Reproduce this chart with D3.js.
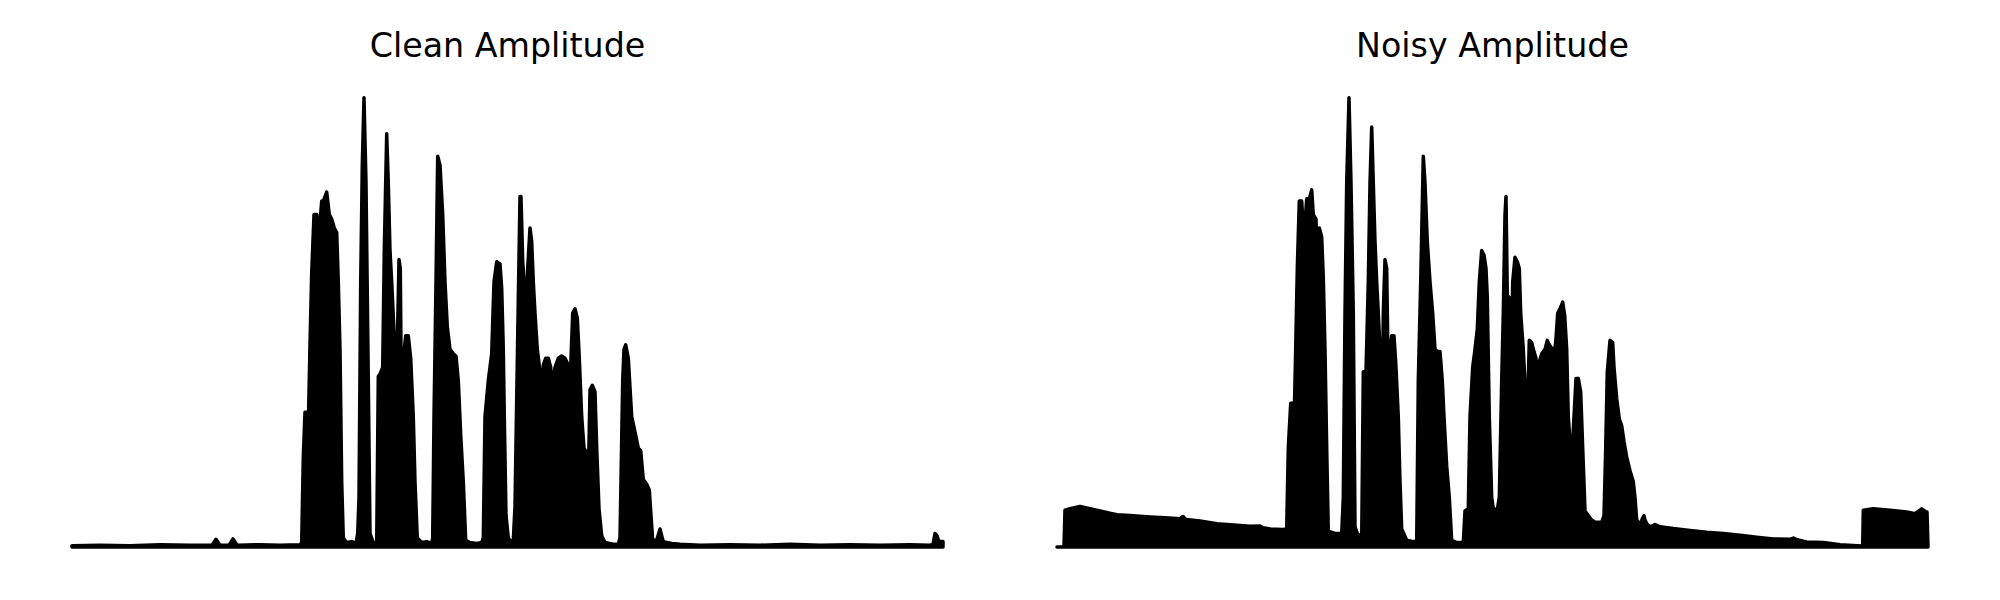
<!DOCTYPE html>
<html>
<head>
<meta charset="utf-8">
<script src="https://cdn.jsdelivr.net/npm/d3@7"></script>
<style>
  html, body { margin: 0; padding: 0; background: #fff; }
  svg { display: block; }
</style>
</head>
<body>
<svg id="chart" width="2000" height="600"></svg>
<script>
// ---- data (envelope frames and amplitudes, normalised to max = 1) ----
const titles = ["Clean Amplitude", "Noisy Amplitude"];

const cleanFrames = [0,28,58,88,118,140,144,148,157,161,165,188,208,228,
  229.7,231.3,233,234.7,236.3,238,239.7,242,244.7,247.3,249.7,251.3,254.7,257.3,259.7,262.3,264.7,266.3,268,269.7,271.3,274.7,279.7,284,
  285.7,287,288.7,290.3,292,294,296.3,298,301.3,304.7,
  306.3,308,310.7,312.3,314.7,316.3,318,319.7,322,323.3,324,324.7,325.3,327,328.3,329,331.3,333.7,336.3,338.7,341.3,343,345.3,349.7,354.7,359.7,
  360.7,362,364,365.7,368,370.7,373,375.3,378,381.3,384,386.3,388.7,391.3,393.7,398,404.7,409.7,
  411.3,413,416.3,419.7,422,424.7,428,429.7,431.3,432.3,434,436.3,439.7,
  441.3,443,444.7,446.3,448,449,450.7,452.3,453.3,453.7,454.3,455.7,458,459.7,461.3,463,465.3,468,469.7,471.3,473.7,476.3,478.7,480.7,483,486.3,489.7,493,496.3,498.7,500.7,503,505.3,507.3,509.7,512,514.7,516.3,518,520.3,523,524.7,527,529.7,533,541.3,546.3,
  548,550.7,552,553.7,556.3,559.7,563,566.3,568.7,571.3,574.7,577.3,579,580.7,584.7,588,589.7,591.3,599.7,608,
  628,658,688,718,748,778,808,838,858,861,863,865,867,871];
const cleanAmp = [0.003,0.004,0.003,0.005,0.004,0.004,0.017,0.004,0.004,0.018,0.004,0.005,0.004,0.005,
  0.01,0.20,0.30,0.30,0.27,0.45,0.61,0.74,0.74,0.70,0.77,0.77,0.79,0.74,0.73,0.71,0.70,0.59,0.44,0.145,0.02,0.01,0.012,0.008,
  0.03,0.11,0.59,0.85,1.0,0.81,0.37,0.03,0.01,0.008,
  0.38,0.385,0.40,0.66,0.92,0.81,0.66,0.59,0.48,0.42,0.28,0.40,0.45,0.64,0.62,0.44,0.42,0.47,0.47,0.42,0.29,0.145,0.02,0.01,0.012,0.008,
  0.02,0.29,0.59,0.87,0.85,0.74,0.59,0.49,0.44,0.43,0.425,0.37,0.25,0.145,0.015,0.01,0.008,0.01,
  0.02,0.29,0.37,0.43,0.59,0.635,0.63,0.575,0.44,0.29,0.07,0.02,0.01,
  0.015,0.09,0.33,0.55,0.78,0.78,0.635,0.59,0.30,0.18,0.45,0.62,0.71,0.68,0.59,0.52,0.44,0.39,0.32,0.405,0.42,0.42,0.40,0.35,0.40,0.42,0.425,0.42,0.405,0.40,0.52,0.53,0.51,0.42,0.29,0.22,0.21,0.145,0.35,0.36,0.345,0.22,0.085,0.025,0.01,0.006,0.006,
  0.02,0.37,0.44,0.45,0.42,0.29,0.256,0.22,0.215,0.15,0.14,0.127,0.07,0.015,0.015,0.04,0.025,0.012,0.008,0.006,
  0.004,0.005,0.004,0.006,0.004,0.005,0.004,0.005,0.004,0.006,0.03,0.025,0.012,0.012];

const noisyFrames = [0,7,8,13,23,33,43,53,60,73,93,108,123,126,129,143,160,183,193,203,206,213,226,
  229.7,231.3,233.7,235.7,237,238.3,240.3,242.3,244.7,246.3,248,249.7,252.3,254.7,256.3,259,260.7,262.3,264.7,266.3,268,269.7,271.3,278,284.7,
  286.3,288,289.7,292,294,296.3,298,300.3,303,304.7,
  306.3,309,311.3,313,314.7,316.3,318,319.7,321.3,323,324,324.7,325.7,326.3,328,329.7,330.7,332.3,334.7,337,339,341.3,343,344.7,349.7,356.3,359.7,
  361.3,363.7,366.3,368,370.3,373,375.7,378,380.3,383,385.3,387,389.7,392.3,394.7,399.7,406.3,
  408,411.3,413,415.7,418,420.3,422.3,424.7,427,429,430.3,432.3,434.7,436.3,440.3,442.3,444.7,446.3,448,449,450.3,452.3,453.7,454,454.7,455.7,458,460.3,462.3,463.7,466.3,469,470.7,472.3,474.7,477,479,480.3,482,484.7,488,490.3,492.3,495.3,497.3,498.7,500.7,503,505.7,507.7,509.7,511.3,513,515.3,517,519,521.3,523.7,525.7,528,531.3,534.7,538,544.7,547,548.7,550.3,553,555.7,557,559.7,562.3,564.7,567,569.7,573,576.3,578,579.7,583,585.7,587,588,590.3,593,598,603,
  616.3,633,649.7,666.3,683,699.7,716.3,733,736.3,740,749.7,766.3,783,804.7,805.7,806.3,816.3,833,849.7,858,864.7,869,870,871];
const noisyAmp = [0,0,0.082,0.085,0.09,0.085,0.08,0.075,0.072,0.07,0.067,0.065,0.063,0.068,0.061,0.058,0.052,0.048,0.046,0.047,0.043,0.040,0.039,
  0.04,0.22,0.32,0.32,0.265,0.40,0.62,0.77,0.77,0.71,0.72,0.775,0.775,0.795,0.74,0.73,0.60,0.71,0.69,0.60,0.44,0.22,0.035,0.03,0.03,
  0.11,0.52,0.81,1.0,0.81,0.52,0.045,0.03,0.025,0.015,
  0.39,0.39,0.59,0.81,0.935,0.81,0.68,0.59,0.52,0.44,0.35,0.28,0.40,0.52,0.64,0.62,0.46,0.42,0.47,0.47,0.40,0.29,0.145,0.04,0.015,0.012,0.012,
  0.37,0.59,0.87,0.81,0.68,0.59,0.52,0.44,0.435,0.435,0.37,0.29,0.18,0.11,0.015,0.01,0.01,
  0.08,0.085,0.29,0.40,0.44,0.485,0.59,0.66,0.65,0.62,0.555,0.29,0.11,0.085,0.083,0.11,0.37,0.52,0.74,0.78,0.56,0.555,0.35,0.22,0.45,0.59,0.645,0.635,0.62,0.52,0.44,0.32,0.32,0.46,0.455,0.435,0.42,0.37,0.41,0.43,0.44,0.46,0.45,0.44,0.435,0.455,0.52,0.53,0.545,0.515,0.44,0.29,0.235,0.22,0.29,0.375,0.375,0.345,0.22,0.08,0.07,0.06,0.055,0.055,0.07,0.22,0.39,0.46,0.455,0.40,0.33,0.285,0.27,0.235,0.20,0.17,0.145,0.11,0.06,0.05,0.065,0.07,0.06,0.05,0.045,0.05,0.045,
  0.041,0.037,0.033,0.03,0.026,0.022,0.018,0.017,0.02,0.016,0.011,0.01,0.005,0.002,0.002,0.082,0.085,0.082,0.078,0.074,0.085,0.078,0.078,0];

// ---- drawing ----
const svg = d3.select("#chart");
const panels = [
  { title: titles[0], frames: cleanFrames, amp: cleanAmp, x0: 72,   x1: 943 },
  { title: titles[1], frames: noisyFrames, amp: noisyAmp, x0: 1057, x1: 1928 }
];
const y = d3.scaleLinear().domain([0, 1]).range([547, 97.75]);

panels.forEach(p => {
  const x = d3.scaleLinear().domain([0, 871]).range([p.x0, p.x1]);
  const data = p.frames.map((f, i) => ({ f, a: p.amp[i] }));
  const area = d3.area()
    .x(d => x(d.f))
    .y0(y(0))
    .y1(d => y(d.a))
    .curve(d3.curveLinear);
  const g = svg.append("g");
  g.append("path")
    .datum(data)
    .attr("d", area)
    .attr("fill", "#000")
    .attr("stroke", "#000")
    .attr("stroke-width", 3.5)
    .attr("stroke-linejoin", "round")
    .attr("stroke-linecap", "round");
  g.append("text")
    .attr("x", (p.x0 + p.x1) / 2)
    .attr("y", 57.3)
    .attr("text-anchor", "middle")
    .attr("font-family", "DejaVu Sans")
    .attr("font-size", "33.3px")
    .attr("fill", "#000")
    .text(p.title);
});
</script>
</body>
</html>
